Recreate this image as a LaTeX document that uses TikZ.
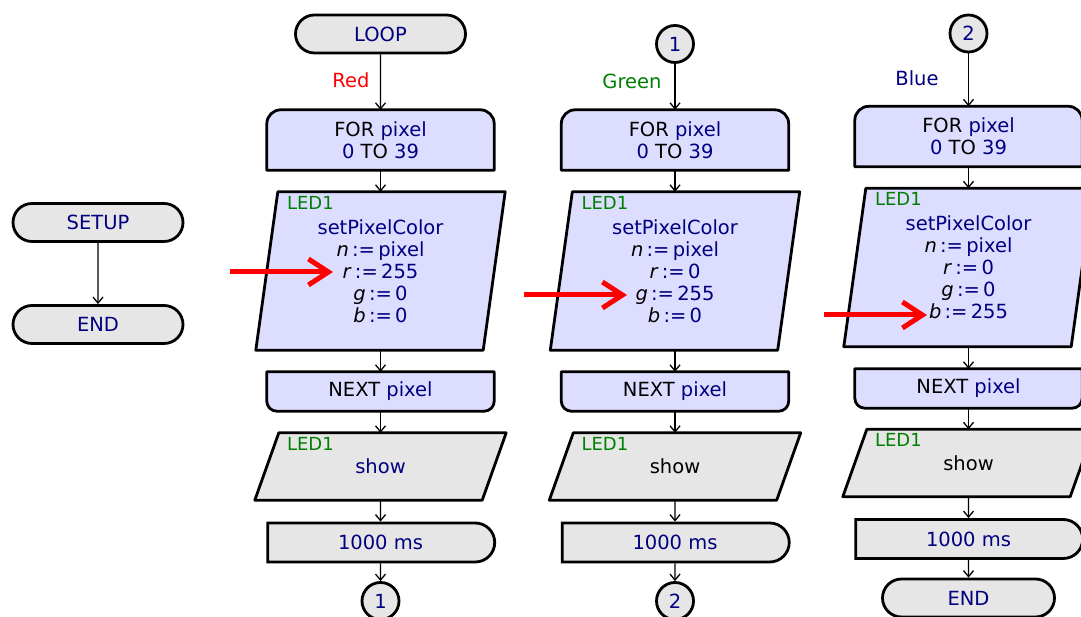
\documentclass[tikz,border=0pt]{standalone}
\usepackage{fontspec}
\setmainfont{DejaVu Sans}
\usetikzlibrary{arrows.meta,shapes.misc,backgrounds}
\usepackage{xcolor}
\definecolor{navy}{RGB}{0,0,128}
\definecolor{leafgreen}{RGB}{0,128,0}
\definecolor{lavender}{RGB}{221,221,255}
\definecolor{panelgrey}{RGB}{230,230,230}
\newcommand{\val}[1]{\textcolor{navy}{#1}}

\begin{document}
\begin{tikzpicture}[x=1pt, y=1pt,
  font=\fontsize{19.5}{22}\selectfont,
  terminal/.style={rounded rectangle, draw, line width=2.8pt, fill=panelgrey,
                   minimum width=170pt, minimum height=38pt, inner sep=0pt, text=navy},
  delaybox/.style={rounded rectangle, rounded rectangle left arc=none, draw,
                   line width=2.8pt, fill=panelgrey, minimum width=227pt,
                   minimum height=39pt, inner sep=0pt, text=navy},
  joint/.style={circle, draw, line width=2.8pt, fill=panelgrey,
                minimum size=37pt, inner sep=0pt, text=navy},
  frame/.style={rectangle, minimum width=227pt, inner sep=0pt, align=center},
  outline/.style={line width=2.8pt, line join=round},
  device/.style={font=\fontsize{18}{20}\selectfont, text=leafgreen,
                 anchor=north west, inner sep=0pt},
  flow/.style={-{Straight Barb[length=6pt,width=10pt]}, line width=1.3pt},
  pointer/.style={-{Straight Barb[length=20pt,width=26pt]}, line width=5pt, red},
]
  \useasboundingbox (0,0) rectangle (1081,617);

  % Setup
  \node[terminal] (setup) at (98,394.5) {SETUP};
  \node[terminal] (setupend) at (98,292.5) {END};
  \draw[flow] (setup) -- (setupend);

  % Red column
  \node[terminal] (loop) at (380.5,583) {LOOP};
  \node[text=red] (red) at (351,537) {Red};
  \node[frame, minimum height=60pt] (f1) at (380.5,477) {FOR \val{pixel}\\\val{0} TO \val{39}};
  \node[frame, minimum height=158pt] (p1) at (380.5,346)
    {\val{setPixelColor}\\\textit{n}\val{\,:=\,pixel}\\\textit{r}\val{\,:=\,255}\\
     \textit{g}\val{\,:=\,0}\\\textit{b}\val{\,:=\,0}};
  \node[frame, minimum height=39pt] (x1) at (380.5,225.5) {NEXT \val{pixel}};
  \node[frame, minimum height=67pt] (s1) at (380.5,150.5) {\val{show}};
  \node[delaybox] (d1) at (380.5,74.5) {1000 ms};
  \node[joint] (jump1) at (380.5,16) {1};

  % Green column
  \node[joint] (link1) at (675,573) {1};
  \node[text=leafgreen] (green) at (632,536) {Green};
  \node[frame, minimum height=60pt] (f2) at (675,477) {FOR \val{pixel}\\\val{0} TO \val{39}};
  \node[frame, minimum height=158pt] (p2) at (675,346)
    {\val{setPixelColor}\\\textit{n}\val{\,:=\,pixel}\\\textit{r}\val{\,:=\,0}\\
     \textit{g}\val{\,:=\,255}\\\textit{b}\val{\,:=\,0}};
  \node[frame, minimum height=39pt] (x2) at (675,225.5) {NEXT \val{pixel}};
  \node[frame, minimum height=67pt] (s2) at (675,150.5) {show};
  \node[delaybox] (d2) at (675,74.5) {1000 ms};
  \node[joint] (jump2) at (675,16) {2};

  % Blue column
  \node[joint] (link2) at (968.5,583.5) {2};
  \node[text=navy] (blue) at (917,539) {Blue};
  \node[frame, minimum height=60pt] (f3) at (968.5,480.5) {FOR \val{pixel}\\\val{0} TO \val{39}};
  \node[frame, minimum height=158pt] (p3) at (968.5,349.5)
    {\val{setPixelColor}\\\textit{n}\val{\,:=\,pixel}\\\textit{r}\val{\,:=\,0}\\
     \textit{g}\val{\,:=\,0}\\\textit{b}\val{\,:=\,255}};
  \node[frame, minimum height=39pt] (x3) at (968.5,228.5) {NEXT \val{pixel}};
  \node[frame, minimum height=67pt] (s3) at (968.5,154) {show};
  \node[delaybox] (d3) at (968.5,78) {1000 ms};
  \node[terminal, minimum width=172pt] (loopend) at (968.5,19) {END};

  % Device labels
  \foreach \c in {1,2,3} {
    \node[device] (p\c led) at ([xshift=20pt,yshift=-4pt]p\c.north west) {LED1};
    \node[device] (s\c led) at ([xshift=20pt,yshift=-4pt]s\c.north west) {LED1};
  }

  % Connectors
  \draw[flow] (loop) -- (f1);
  \draw[flow] (link1) -- (f2);
  \draw[flow] (link2) -- (f3);
  \foreach \c in {1,2,3} {
    \draw[flow] (f\c) -- (p\c);
    \draw[flow] (p\c) -- (x\c);
    \draw[flow] (x\c) -- (s\c);
    \draw[flow] (s\c) -- (d\c);
  }
  \draw[flow] (d1) -- (jump1);
  \draw[flow] (d2) -- (jump2);
  \draw[flow] (d3) -- (loopend);

  % Red markers
  \coordinate (r1tail) at (230,345);  \coordinate (r1head) at (333,345);
  \coordinate (r2tail) at (524,322);  \coordinate (r2head) at (627,322);
  \coordinate (r3tail) at (824,302);  \coordinate (r3head) at (927,302);
  \foreach \c in {1,2,3}
    \draw[pointer] (r\c tail) -- (r\c head);

  % Box outlines
  \begin{scope}[on background layer]
    \foreach \c in {1,2,3} {
      \draw[outline, fill=lavender] (f\c.south west) -- ([yshift=-14pt]f\c.north west)
        arc[start angle=180, end angle=90, radius=14pt] -- ([xshift=-14pt]f\c.north east)
        arc[start angle=90, end angle=0, radius=14pt] -- (f\c.south east) -- cycle;
      \draw[outline, fill=lavender] ([xshift=11pt]p\c.north west) -- ([xshift=11pt]p\c.north east)
        -- ([xshift=-11pt]p\c.south east) -- ([xshift=-11pt]p\c.south west) -- cycle;
      \draw[outline, fill=lavender] (x\c.north west) -- ([yshift=10pt]x\c.south west)
        arc[start angle=180, end angle=270, radius=10pt] -- ([xshift=-10pt]x\c.south east)
        arc[start angle=270, end angle=360, radius=10pt] -- (x\c.north east) -- cycle;
      \draw[outline, fill=panelgrey] ([xshift=12pt]s\c.north west) -- ([xshift=12pt]s\c.north east)
        -- ([xshift=-12pt]s\c.south east) -- ([xshift=-12pt]s\c.south west) -- cycle;
    }
  \end{scope}
\end{tikzpicture}
\end{document}
